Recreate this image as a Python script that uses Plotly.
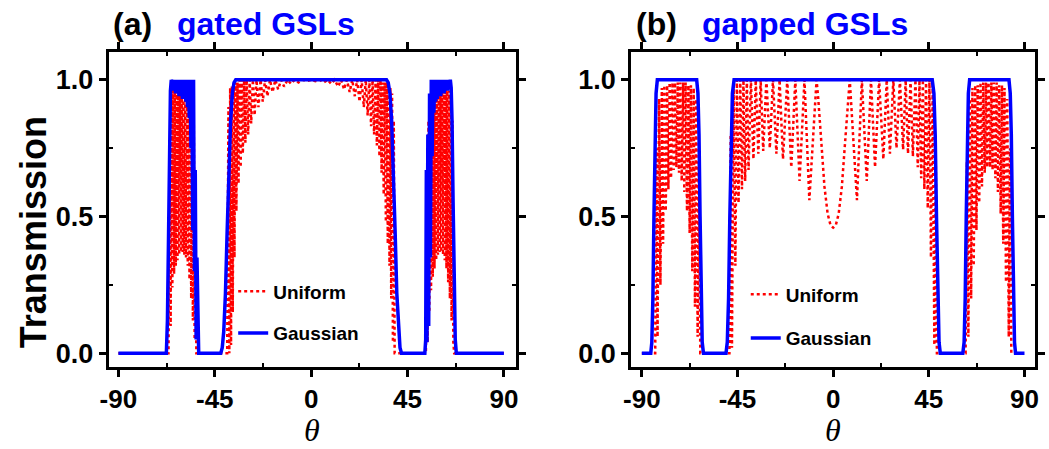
import plotly.graph_objects as go

# ---------------- data ----------------
# Panel (a) gated GSLs: Uniform (red dotted)
A_UNI_X = [-90, -66.6, -66.0, -65.6, -65.2, -64.8, -64.4, -64.0, -63.6, -63.2, -62.8, -62.4, -62.0, -61.6,
           -61.2, -60.8, -60.4, -60.0, -59.6, -59.2, -58.8, -58.4, -58.0, -57.6, -57.2, -56.8, -56.4, -56.0,
           -55.6, -55.2, -54.8, -54.4, -54.0, -53.6,
           -39.2, -38.6, -38.2, -37.8, -37.4, -37.0, -36.6, -36.2, -35.8, -35.4, -34.9, -34.4, -33.9, -33.4,
           -32.9, -32.4, -31.9, -31.3, -30.7, -30.1, -29.4, -28.7, -28.0, -27.2, -26.4, -25.5, -24.6, -23.6,
           -22.6, -21.5, -20.4, -19.2, -18.0, -16.7, -15.4, -14.0, -12.6, -11.0, -9.4, -7.7, -5.9, -4.0, -2.0,
           0.0, 2.0, 4.0, 5.9, 7.7, 9.4, 11.0, 12.6, 14.0, 15.4, 16.7, 18.0, 19.2, 20.4, 21.5, 22.6, 23.6, 24.6,
           25.5, 26.4, 27.2, 28.0, 28.7, 29.4, 30.1, 30.7, 31.3, 31.9, 32.4, 32.9, 33.4, 33.9, 34.4, 34.9, 35.4,
           35.8, 36.2, 36.6, 37.0, 37.4, 37.8, 38.2, 38.6, 39.0,
           53.6, 54.0, 54.4, 54.8, 55.2, 55.6, 56.0, 56.4, 56.8, 57.2, 57.6, 58.0, 58.4, 58.8, 59.2, 59.6, 60.0,
           60.4, 60.8, 61.2, 61.6, 62.0, 62.4, 62.8, 63.2, 63.6, 64.0, 64.4, 64.8, 65.2, 65.6, 66.0, 66.4, 66.8, 90]
A_UNI_Y = [0, 0, 0.75, 0.10, 0.95, 0.24, 0.97, 0.29, 0.98, 0.32, 0.98, 0.34, 0.98, 0.36,
           0.98, 0.37, 0.98, 0.37, 0.98, 0.36, 0.98, 0.35, 0.97, 0.32, 0.97, 0.27, 0.96, 0.20,
           0.93, 0.12, 0.86, 0.05, 0.60, 0.0,
           0.0, 0.90, 0.0, 0.97, 0.03, 0.98, 0.15, 0.99, 0.35, 0.99, 0.52, 0.99, 0.62, 1.0,
           0.68, 1.0, 0.73, 1.0, 0.77, 1.0, 0.80, 1.0, 0.84, 1.0, 0.87, 1.0, 0.90, 1.0,
           0.92, 1.0, 0.94, 1.0, 0.955, 1.0, 0.965, 1.0, 0.975, 1.0, 0.985, 1.0, 0.99, 1.0, 0.995,
           1.0, 0.995, 1.0, 0.99, 1.0, 0.985, 1.0, 0.975, 1.0, 0.965, 1.0, 0.955, 1.0, 0.94, 1.0, 0.92, 1.0, 0.90,
           1.0, 0.87, 1.0, 0.83, 1.0, 0.80, 1.0, 0.76, 1.0, 0.72, 1.0, 0.66, 0.99, 0.58, 0.99, 0.48, 0.99,
           0.40, 0.98, 0.32, 0.97, 0.20, 0.95, 0.04, 0.85, 0.0,
           0.0, 0.55, 0.04, 0.85, 0.15, 0.93, 0.23, 0.96, 0.28, 0.97, 0.31, 0.98, 0.34, 0.98, 0.36, 0.98, 0.37,
           0.98, 0.37, 0.98, 0.36, 0.98, 0.34, 0.98, 0.31, 0.97, 0.26, 0.96, 0.20, 0.94, 0.12, 0.85, 0.04, 0.0, 0]

# Panel (a): Gaussian (blue solid)
A_GAU_X = [-90, -67.6, -67.1, -66.6, -66.1, -65.7, -65.3, -64.9, -64.5, -64.1, -63.7, -63.3, -62.9, -62.5,
           -62.1, -61.7, -61.3, -60.9, -60.5, -60.1, -59.7, -59.3, -58.9, -58.5, -58.1, -57.7, -57.3, -56.9,
           -56.5, -56.1, -55.7, -55.3, -54.9, -54.5, -54.1, -53.7, -53.3, -52.9, -52.5,
           -42.2, -41.5, -40.8, -40.0, -39.2, -38.4, -37.6, -36.8, -36.0, -35.2,
           35.2, 36.0, 36.8, 37.6, 38.4, 39.2, 40.0, 40.8, 41.5, 42.2,
           53.1, 53.5, 53.8, 54.1, 54.5, 54.9, 55.3, 55.7, 56.1, 56.5, 56.9, 57.3, 57.7, 58.1, 58.5, 58.9,
           59.3, 59.7, 60.1, 60.5, 60.9, 61.3, 61.7, 62.1, 62.5, 62.9, 63.3, 63.7, 64.1, 64.5, 65.0, 65.4,
           65.8, 66.3, 66.8, 67.3, 67.8, 90]
A_GAU_Y = [0, 0, 0.12, 0.45, 0.82, 0.96, 1.0, 0.97, 1.0, 0.96, 1.0, 0.95, 1.0, 0.95,
           1.0, 0.94, 1.0, 0.94, 1.0, 0.93, 1.0, 0.93, 1.0, 0.92, 1.0, 0.90, 1.0, 0.86,
           1.0, 0.75, 1.0, 0.45, 1.0, 0.30, 0.67, 0.05, 0.35, 0.02, 0.0,
           0.0, 0.02, 0.08, 0.22, 0.45, 0.68, 0.85, 0.95, 0.99, 1.0,
           1.0, 0.99, 0.95, 0.85, 0.68, 0.45, 0.22, 0.08, 0.02, 0.0,
           0.0, 0.05, 0.67, 0.04, 0.80, 0.10, 0.95, 0.35, 1.0, 0.72, 1.0, 0.88, 1.0, 0.92, 1.0, 0.93,
           1.0, 0.94, 1.0, 0.94, 1.0, 0.95, 1.0, 0.95, 1.0, 0.96, 1.0, 0.96, 1.0, 0.97, 1.0, 0.97,
           0.85, 0.55, 0.22, 0.05, 0.0, 0]

# Panel (b) gapped GSLs: Uniform (red dotted)
B_UNI_X = [-90, -83.7, -83.2, -82.6, -81.9, -81.25, -80.6, -80.0, -79.4, -78.75, -78.1, -77.5, -76.9, -76.25,
           -75.6, -75.0, -74.4, -73.75, -73.1, -72.5, -71.9, -71.25, -70.6, -70.0, -69.4, -68.75, -68.1, -67.5,
           -66.9, -66.25, -65.6, -65.0, -64.4, -63.75, -63.1, -62.5,
           -48.8, -48.2, -47.6, -46.8, -46.0, -45.3, -44.5, -43.7, -42.9, -42.2, -41.4, -40.6, -39.8, -38.7,
           -37.5, -36.4, -35.2, -34.1, -32.9, -31.4, -29.8, -28.3, -26.7, -25.2, -23.6, -21.6, -19.7, -17.8,
           -15.8, -13.5, -11.2, -7.8, -7.0, -5.6, -4.1, -2.6, -1.2, 0.0, 1.2, 2.6, 4.1, 5.6, 7.0, 7.8,
           11.2, 13.5, 15.8, 17.8, 19.7, 21.6, 23.6, 25.2, 26.7, 28.3, 29.8, 31.4, 32.9, 34.1, 35.2, 36.4,
           37.5, 38.7, 39.8, 40.6, 41.4, 42.2, 42.9, 43.7, 44.5, 45.3, 46.0, 46.8, 47.6, 48.2, 48.8,
           62.3, 62.9, 63.6, 64.3, 64.9, 65.5, 66.1, 66.8, 67.4, 68.0, 68.7, 69.3, 70.0, 70.6, 71.3, 71.9,
           72.5, 73.1, 73.8, 74.4, 75.0, 75.6, 76.3, 76.9, 77.5, 78.1, 78.8, 79.4, 80.0, 80.6, 81.3, 81.9,
           82.6, 83.2, 83.8, 90]
B_UNI_Y = [0, 0, 0.75, 0.06, 0.93, 0.25, 0.97, 0.40, 0.98, 0.52, 0.98, 0.60, 0.99, 0.64,
           0.99, 0.67, 0.99, 0.68, 0.99, 0.66, 0.99, 0.63, 0.99, 0.59, 0.99, 0.52, 0.98, 0.44,
           0.98, 0.30, 0.97, 0.17, 0.93, 0.06, 0.70, 0.0,
           0.0, 0.80, 0.02, 0.98, 0.32, 1.0, 0.55, 1.0, 0.60, 1.0, 0.63, 1.0, 0.67, 1.0,
           0.71, 1.0, 0.73, 1.0, 0.74, 1.0, 0.75, 1.0, 0.73, 1.0, 0.71, 1.0, 0.68, 1.0,
           0.63, 1.0, 0.56, 1.0, 0.93, 0.77, 0.61, 0.51, 0.467, 0.459, 0.467, 0.51, 0.61, 0.77, 0.93, 1.0,
           0.56, 1.0, 0.63, 1.0, 0.68, 1.0, 0.71, 1.0, 0.73, 1.0, 0.75, 1.0, 0.745, 1.0, 0.73, 1.0,
           0.72, 1.0, 0.68, 1.0, 0.64, 1.0, 0.60, 1.0, 0.53, 1.0, 0.35, 0.98, 0.03, 0.80, 0.0,
           0.0, 0.70, 0.06, 0.93, 0.20, 0.97, 0.32, 0.98, 0.45, 0.98, 0.55, 0.99, 0.61, 0.99, 0.66, 0.99,
           0.68, 0.99, 0.68, 0.99, 0.67, 0.99, 0.64, 0.99, 0.59, 0.98, 0.51, 0.98, 0.40, 0.97, 0.26, 0.93,
           0.06, 0.75, 0.0, 0]

# Panel (b): Gaussian (blue solid)
B_GAU_X = [-90, -85.8, -85.3, -84.8, -84.3, -83.8, -83.3, -82.7, -64.2, -63.6, -63.1, -62.6, -62.1, -61.6, -61.0,
           -50.4, -49.8, -49.2, -48.6, -48.0, -47.4, -46.6, 46.6, 47.4, 48.0, 48.6, 49.2, 49.8, 50.4,
           61.0, 61.6, 62.1, 62.6, 63.1, 63.6, 64.2, 82.7, 83.3, 83.8, 84.3, 84.8, 85.3, 85.8, 90]
B_GAU_Y = [0, 0, 0.04, 0.2, 0.5, 0.8, 0.95, 1.0, 1.0, 0.95, 0.8, 0.5, 0.2, 0.04, 0.0,
           0.0, 0.04, 0.2, 0.5, 0.8, 0.95, 1.0, 1.0, 0.95, 0.8, 0.5, 0.2, 0.04, 0.0,
           0.0, 0.04, 0.2, 0.5, 0.8, 0.95, 1.0, 1.0, 0.95, 0.8, 0.5, 0.2, 0.04, 0.0, 0]

X_TICKS = [-90, -45, 0, 45, 90]
X_TICK_LABELS = ["-90", "-45", "0", "45", "90"]
Y_TICKS = [0.0, 0.5, 1.0]
SERIES_NAMES = ["Uniform", "Gaussian"]
PANEL_LABELS = ["(a)", "(b)"]
PANEL_TITLES = ["gated GSLs", "gapped GSLs"]

# ---------------- figure ----------------
W, H = 1049, 449
RED = "#ff0000"
BLUE = "#0000ff"


def px(x):
    return x / W


def py(y):
    return 1 - y / H


fig = go.Figure()
panels = [
    ("x", "y", "legend", A_UNI_X, A_UNI_Y, A_GAU_X, A_GAU_Y),
    ("x2", "y2", "legend2", B_UNI_X, B_UNI_Y, B_GAU_X, B_GAU_Y),
]
for xa, ya, lg, ux, uy, gx, gy in panels:
    fig.add_trace(go.Scatter(x=ux, y=uy, mode="lines", name=SERIES_NAMES[0], xaxis=xa, yaxis=ya,
                             legend=lg, legendgroup=lg + "u",
                             line=dict(color=RED, width=2.5, dash="dot")))
    fig.add_trace(go.Scatter(x=gx, y=gy, mode="lines", name=SERIES_NAMES[1], xaxis=xa, yaxis=ya,
                             legend=lg, legendgroup=lg + "g",
                             line=dict(color=BLUE, width=3.5)))

tickfont_x = dict(family="Liberation Sans Narrow, Liberation Sans, Arial", size=26, color="black", weight="bold")
tickfont_y = dict(family="Liberation Sans, Arial", size=27, color="black", weight="bold")

axis_common = dict(showline=True, linewidth=3, linecolor="black", mirror="ticks",
                   ticks="outside", ticklen=7, tickwidth=2.5, tickcolor="black",
                   showgrid=False, zeroline=False)
xminor = dict(ticks="inside", ticklen=4, tickwidth=2, tickcolor="black", tickvals=[-67.5, -22.5, 22.5, 67.5])
yminor = dict(ticks="inside", ticklen=4, tickwidth=2, tickcolor="black", tickvals=[0.25, 0.75])

y_top, y_bot = 52, 368
ydom = [py(y_bot), py(y_top)]
fig.update_layout(
    width=W, height=H, autosize=False,
    margin=dict(l=0, r=0, t=0, b=0),
    paper_bgcolor="white", plot_bgcolor="white",
    xaxis=dict(domain=[px(101), px(513)], range=[-94.5, 95.5], tickvals=X_TICKS, ticktext=X_TICK_LABELS,
               tickfont=tickfont_x, anchor="y", minor=xminor, **axis_common),
    yaxis=dict(domain=ydom, range=[-0.051, 1.102], tickvals=Y_TICKS, tickformat=".1f",
               tickfont=tickfont_y, anchor="x", minor=yminor, **axis_common),
    xaxis2=dict(domain=[px(630), px(1039)], range=[-95, 95], tickvals=X_TICKS, ticktext=X_TICK_LABELS,
                tickfont=tickfont_x, anchor="y2", minor=xminor, **axis_common),
    yaxis2=dict(domain=ydom, range=[-0.051, 1.102], tickvals=Y_TICKS, tickformat=".1f",
                tickfont=tickfont_y, anchor="x2", minor=yminor, **axis_common),
    legend=dict(x=px(227), y=py(273), xanchor="left", yanchor="top", bgcolor="rgba(0,0,0,0)",
                font=dict(family="Liberation Sans, Arial", size=19, color="black", weight="bold"),
                tracegroupgap=14, itemwidth=30),
    legend2=dict(x=px(746), y=py(276), xanchor="left", yanchor="top", bgcolor="rgba(0,0,0,0)",
                 font=dict(family="Liberation Sans, Arial", size=19, color="black", weight="bold"),
                 tracegroupgap=16, itemwidth=30),
    showlegend=True,
)

ann = []
title_font = dict(family="Liberation Sans, Arial", size=32, weight="bold")
ann.append(dict(text=PANEL_LABELS[0], x=px(103), y=py(24), xanchor="left", yanchor="middle",
                font=dict(color="black", **title_font)))
ann.append(dict(text=PANEL_TITLES[0], x=px(168), y=py(24), xanchor="left", yanchor="middle",
                font=dict(color=BLUE, **title_font)))
ann.append(dict(text=PANEL_LABELS[1], x=px(633), y=py(24), xanchor="left", yanchor="middle",
                font=dict(color="black", **title_font)))
ann.append(dict(text=PANEL_TITLES[1], x=px(700), y=py(24), xanchor="left", yanchor="middle",
                font=dict(color=BLUE, **title_font)))
ann.append(dict(text="Transmission", x=px(25), y=py(233), xanchor="center", yanchor="middle", textangle=-90,
                font=dict(family="Liberation Sans, Arial", size=36, weight="bold", color="black")))
for cx in (307, 834):
    ann.append(dict(text="θ", x=px(cx), y=py(431), xanchor="center", yanchor="middle",
                    font=dict(family="Liberation Serif, Times New Roman, serif", size=32, style="italic", color="black")))
for a in ann:
    a.update(xref="paper", yref="paper", showarrow=False)
fig.update_layout(annotations=ann)

fig.write_html("out.html", config={"displayModeBar": False},
               post_script="document.body.style.margin='0';document.body.style.overflow='hidden';")
